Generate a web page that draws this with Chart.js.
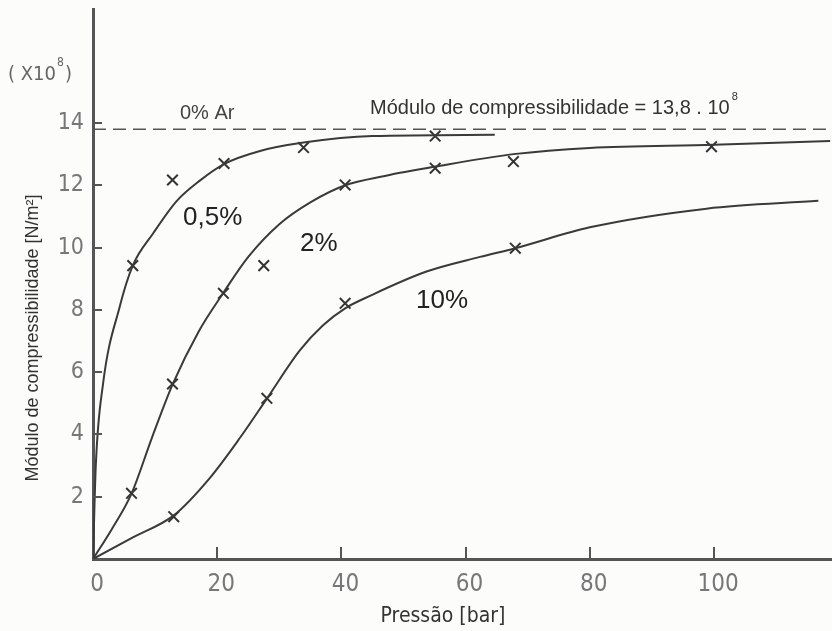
<!DOCTYPE html>
<html>
<head>
<meta charset="utf-8">
<script src="https://cdn.jsdelivr.net/npm/chart.js@4/dist/chart.umd.min.js"></script>
<style>
  html, body { margin: 0; padding: 0; background: #fcfcfa; }
  canvas { display: block; }
</style>
</head>
<body>
<canvas id="chart" width="832" height="631"></canvas>
<script>
// Axis ticks
const xTicks = [0, 20, 40, 60, 80, 100];
const yTicks = [2, 4, 6, 8, 10, 12, 14];

// Bulk modulus of air-free oil (x10^8 N/m^2)
const airFreeModulus = 13.8;

// Fitted curves: pressure [bar] and modulus [x10^8 N/m^2]
const curve05Pressure = [0, 0.45, 1.6, 4.3, 6.4, 9.7, 13.5, 17.2, 21.1, 26.9, 33.9, 45, 64.7];
const curve05Modulus  = [0, 3.0, 5.6, 8.1, 9.42, 10.46, 11.5, 12.15, 12.68, 13.1, 13.37, 13.58, 13.62];

const curve2Pressure = [0, 3, 6.2, 9.5, 12.8, 17, 21, 25, 30, 35, 40.6, 47, 55.1, 67.7, 80, 100, 118.7];
const curve2Modulus  = [0, 0.95, 2.1, 3.9, 5.6, 7.3, 8.55, 9.7, 10.75, 11.45, 12.0, 12.3, 12.6, 13.0, 13.2, 13.3, 13.42];

const curve10Pressure = [0, 6.5, 13, 18.8, 23.7, 28, 33.3, 37, 40.6, 44.6, 53.7, 62.3, 68, 80, 98.8, 116.8];
const curve10Modulus  = [0, 0.7, 1.4, 2.6, 3.9, 5.15, 6.7, 7.5, 8.05, 8.45, 9.23, 9.7, 9.98, 10.65, 11.25, 11.5];

// Measured points (x marks)
const meas05Pressure = [6.4, 12.8, 21.1, 33.9, 55.1];
const meas05Modulus  = [9.42, 12.17, 12.7, 13.21, 13.58];

const meas2Pressure = [6.2, 12.8, 21, 27.5, 40.6, 55.1, 67.7, 99.6];
const meas2Modulus  = [2.11, 5.62, 8.53, 9.42, 12.01, 12.55, 12.76, 13.24];

const meas10Pressure = [13.0, 28, 40.6, 68];
const meas10Modulus  = [1.36, 5.16, 8.21, 9.98];

const zip = (xs, ys) => xs.map((x, i) => ({ x: x, y: ys[i] }));

const INK = '#3a3a3a';
const AXIS = '#555555';
const TICK_FONT = 'DejaVu Sans Condensed';
const TEXT_FONT = '"Liberation Sans", Arial, sans-serif';

function curveSet(xs, ys) {
  return {
    type: 'line', data: zip(xs, ys),
    borderColor: INK, borderWidth: 2, pointRadius: 0,
    cubicInterpolationMode: 'monotone', fill: false
  };
}
function markSet(xs, ys) {
  return {
    type: 'scatter', data: zip(xs, ys), showLine: false,
    pointStyle: 'crossRot', pointRadius: 7.5, pointHoverRadius: 7.5,
    borderColor: '#333', borderWidth: 2, backgroundColor: 'transparent'
  };
}

// Inside tick marks, annotations and axis titles
const decorations = {
  id: 'decorations',
  beforeDraw(chart) {
    const ctx = chart.ctx;
    ctx.save();
    ctx.fillStyle = '#fcfcfa';
    ctx.fillRect(0, 0, chart.width, chart.height);
    ctx.restore();
  },
  afterDraw(chart) {
    const ctx = chart.ctx;
    const xs = chart.scales.x, ys = chart.scales.y;
    const area = chart.chartArea;
    ctx.save();
    ctx.strokeStyle = AXIS;
    ctx.lineWidth = 2;
    xTicks.forEach(v => {
      if (v === 0) return;
      const px = Math.round(xs.getPixelForValue(v));
      ctx.beginPath(); ctx.moveTo(px, area.bottom); ctx.lineTo(px, area.bottom - 12); ctx.stroke();
    });
    yTicks.forEach(v => {
      const py = Math.round(ys.getPixelForValue(v));
      ctx.beginPath(); ctx.moveTo(area.left, py); ctx.lineTo(area.left + 9, py); ctx.stroke();
    });

    ctx.textBaseline = 'middle';
    ctx.textAlign = 'left';

    // (X10^8) unit marker
    ctx.fillStyle = '#666';
    ctx.font = '20px "' + TICK_FONT + '"';
    let t = '( X10';
    ctx.fillText(t, 8, 75);
    let w = ctx.measureText(t).width;
    ctx.font = '12px "' + TICK_FONT + '"';
    ctx.fillText('8', 8 + w + 1, 63);
    ctx.font = '20px "' + TICK_FONT + '"';
    ctx.fillText(')', 8 + w + 9, 75);

    // Air-free reference labels
    ctx.fillStyle = '#444';
    ctx.font = '20px ' + TEXT_FONT;
    ctx.fillText('0% Ar', 180, 113);

    ctx.fillStyle = '#333';
    t = 'Módulo de compressibilidade = 13,8 . 10';
    ctx.fillText(t, 370, 108);
    w = ctx.measureText(t).width;
    ctx.font = '11px ' + TEXT_FONT;
    ctx.fillText('8', 370 + w + 2, 97);

    // Curve labels
    ctx.fillStyle = '#222';
    ctx.font = '26px ' + TEXT_FONT;
    ctx.fillText('0,5%', 183, 218);
    ctx.fillText('2%', 300, 244);
    ctx.fillText('10%', 416, 301);

    // Axis titles
    ctx.fillStyle = '#333';
    ctx.textAlign = 'center';
    ctx.font = '21px "' + TICK_FONT + '"';
    ctx.fillText('Pressão [bar]', 443, 617);

    ctx.font = '18px ' + TEXT_FONT;
    ctx.translate(33, 338);
    ctx.rotate(-Math.PI / 2);
    ctx.fillText('Módulo de compressibilidade [N/m²]', 0, 0);
    ctx.restore();
  }
};

new Chart(document.getElementById('chart'), {
  data: {
    datasets: [
      {
        type: 'line',
        data: [{ x: 0, y: airFreeModulus }, { x: 119, y: airFreeModulus }],
        borderColor: AXIS, borderWidth: 1.6, borderDash: [13, 7],
        pointRadius: 0, fill: false
      },
      curveSet(curve05Pressure, curve05Modulus),
      curveSet(curve2Pressure, curve2Modulus),
      curveSet(curve10Pressure, curve10Modulus),
      markSet(meas05Pressure, meas05Modulus),
      markSet(meas2Pressure, meas2Modulus),
      markSet(meas10Pressure, meas10Modulus)
    ]
  },
  options: {
    responsive: false,
    animation: false,
    devicePixelRatio: 1,
    layout: { autoPadding: false, padding: { top: 9, left: 0, right: 0, bottom: 0 } },
    plugins: { legend: { display: false }, tooltip: { enabled: false } },
    scales: {
      x: {
        type: 'linear', min: 0, max: 119,
        afterBuildTicks: s => { s.ticks = xTicks.map(v => ({ value: v })); },
        afterFit: s => { s.height = 72; s.paddingLeft = 0; s.paddingRight = 0; },
        grid: { display: false, drawTicks: false },
        border: { display: true, color: AXIS, width: 3 },
        ticks: {
          padding: 11, labelOffset: 4, maxRotation: 0, autoSkip: false,
          color: '#777', font: { family: TICK_FONT, size: 24 }
        }
      },
      y: {
        type: 'linear', min: 0, max: 17.66,
        afterBuildTicks: s => { s.ticks = yTicks.map(v => ({ value: v })); },
        afterFit: s => { s.width = 93; s.paddingTop = 0; s.paddingBottom = 0; },
        grid: { display: false, drawTicks: false },
        border: { display: true, color: AXIS, width: 3 },
        ticks: {
          padding: 9, autoSkip: false,
          color: '#777', font: { family: TICK_FONT, size: 23 }
        }
      }
    }
  },
  plugins: [decorations]
});
</script>
</body>
</html>
